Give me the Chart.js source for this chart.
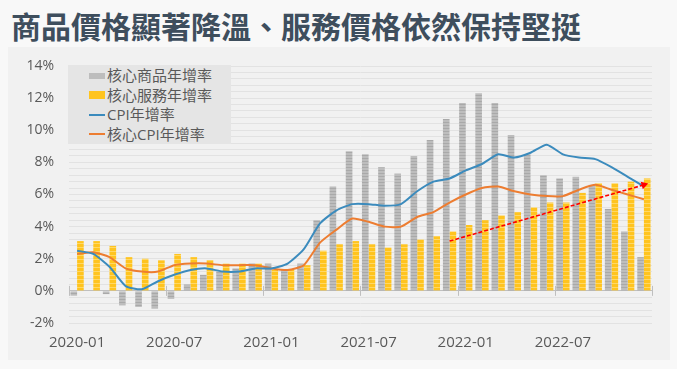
<!DOCTYPE html>
<html lang="zh-Hant">
<head>
<meta charset="utf-8">
<script src="https://cdn.jsdelivr.net/npm/chart.js@4"></script>
<style>
  html, body { margin: 0; padding: 0; background: #f8f8f8; }
  body { width: 677px; height: 369px; position: relative; overflow: hidden;
         font-family: 'Open Sans', 'Noto Sans CJK TC', sans-serif; }
  #panel { position: absolute; left: 8px; top: 47px; width: 662px; height: 313px; background: #f1f1f1; }
  h1 { position: absolute; left: 11px; top: 8px; margin: 0; line-height: 34px;
       font: bold 30px/34px 'Noto Sans CJK TC', sans-serif; color: #3e4e5d; white-space: nowrap; }
  #wrap { position: absolute; left: 0; top: 0; width: 677px; height: 369px; }
  #legend { position: absolute; left: 68px; top: 65px; width: 163px; height: 79px; background: #e5e5e5;
            color: #595959; font-size: 15px; }
  #legend .row { position: absolute; left: 21px; height: 20px; line-height: 20px; white-space: nowrap; }
  #legend .sw { display: inline-block; width: 16px; vertical-align: middle; margin-right: 2px; position: relative; top: -1px; }
  .sw.goods { height: 6px; background: #bdbdbd; }
  .sw.serv { height: 8px; background: #ffc41f; }
  .sw.cpi { height: 2px; background: #3b8bbd; }
  .sw.core { height: 2px; background: #ed7d31; }
</style>
</head>
<body>
<div id="panel"></div>
<h1>商品價格顯著降溫、服務價格依然保持堅挺</h1>
<div id="wrap"><canvas id="chart" width="677" height="369"></canvas></div>
<div id="legend">
  <div class="row" style="top:0px"><span class="sw goods"></span>核心商品年增率</div>
  <div class="row" style="top:19.5px"><span class="sw serv"></span>核心服務年增率</div>
  <div class="row" style="top:39px"><span class="sw cpi"></span>CPI年增率</div>
  <div class="row" style="top:58.5px"><span class="sw core"></span>核心CPI年增率</div>
</div>
<script>
// 月份（類別軸）
const months = [
  '2020-01','2020-02','2020-03','2020-04','2020-05','2020-06','2020-07','2020-08','2020-09','2020-10','2020-11','2020-12',
  '2021-01','2021-02','2021-03','2021-04','2021-05','2021-06','2021-07','2021-08','2021-09','2021-10','2021-11','2021-12',
  '2022-01','2022-02','2022-03','2022-04','2022-05','2022-06','2022-07','2022-08','2022-09','2022-10','2022-11','2022-12'
];

// 年增率 (%)
const coreGoods = [-0.3, 0.0, -0.2, -0.9, -1.0, -1.1, -0.5, 0.4, 1.0, 1.2, 1.4, 1.7,
                   1.7, 1.3, 1.7, 4.4, 6.5, 8.7, 8.5, 7.7, 7.3, 8.4, 9.4, 10.7,
                   11.7, 12.3, 11.7, 9.7, 8.5, 7.2, 7.0, 7.1, 6.6, 5.1, 3.7, 2.1];
const coreServices = [3.1, 3.1, 2.8, 2.1, 2.0, 1.9, 2.3, 2.1, 1.9, 1.7, 1.7, 1.7,
                      1.3, 1.3, 1.6, 2.5, 2.9, 3.1, 2.9, 2.7, 2.9, 3.2, 3.4, 3.7,
                      4.1, 4.4, 4.7, 4.9, 5.2, 5.5, 5.5, 6.1, 6.7, 6.7, 6.8, 7.0];
const cpi = [2.5, 2.3, 1.5, 0.3, 0.1, 0.6, 1.0, 1.3, 1.4, 1.2, 1.2, 1.4,
             1.4, 1.7, 2.6, 4.2, 5.0, 5.4, 5.4, 5.3, 5.4, 6.2, 6.8, 7.0,
             7.5, 7.9, 8.5, 8.3, 8.6, 9.1, 8.5, 8.3, 8.2, 7.7, 7.1, 6.5];
const coreCpi = [2.3, 2.4, 2.1, 1.4, 1.2, 1.2, 1.6, 1.7, 1.7, 1.6, 1.6, 1.6,
                 1.4, 1.3, 1.6, 3.0, 3.8, 4.5, 4.3, 4.0, 4.0, 4.6, 4.9, 5.5,
                 6.0, 6.4, 6.5, 6.2, 6.0, 5.9, 5.9, 6.3, 6.6, 6.3, 6.0, 5.7];

// 紅色虛線箭頭（服務價格趨勢）
const trendMonths = ['2021-12', '2022-12'];
const trendValues = [3.1, 6.6];

// y 軸範圍與格線間距
const yMin = -2, yMax = 14, yStep = 0.4;

// 長條的橫紋圖樣
function stripes(base, line, h) {
  const c = document.createElement('canvas');
  c.width = 1; c.height = h;
  const g = c.getContext('2d');
  g.fillStyle = base; g.fillRect(0, 0, 1, h);
  g.fillStyle = line; g.fillRect(0, h - 1, 1, 1);
  return g.createPattern(c, 'repeat');
}

// 在 0% 線上畫每半年一個的刻度
const zeroTicks = {
  id: 'zeroTicks',
  afterDatasetsDraw(chart) {
    const { ctx, scales: { x, y } } = chart;
    const y0 = y.getPixelForValue(0);
    const half = (x.getPixelForValue(1) - x.getPixelForValue(0)) / 2;
    ctx.save();
    ctx.strokeStyle = '#bfbfbf';
    ctx.lineWidth = 1;
    for (let i = 0; i <= months.length; i += 6) {
      const px = Math.round(x.getPixelForValue(i) - half) + 0.5;
      ctx.beginPath();
      ctx.moveTo(px, y0 - 5);
      ctx.lineTo(px, y0 + 5);
      ctx.stroke();
    }
    ctx.restore();
  }
};

const ctx = document.getElementById('chart').getContext('2d');
const tickFont = { family: "'Open Sans', 'Noto Sans CJK TC', sans-serif", size: 15 };

new Chart(ctx, {
  type: 'bar',
  data: {
    labels: months,
    datasets: [
      {
        type: 'line', label: 'trend', order: 0,
        data: trendMonths.map((m, i) => ({ x: m, y: trendValues[i] })),
        borderColor: '#ff0000', borderWidth: 1.6, borderDash: [4, 2],
        pointStyle: 'triangle', rotation: 74,
        pointRadius: [0, 4.5], backgroundColor: '#ff0000', pointBorderWidth: 0
      },
      {
        type: 'line', label: 'CPI年增率', order: 1, data: cpi,
        borderColor: '#3b8bbd', borderWidth: 2, pointRadius: 0, tension: 0.2
      },
      {
        type: 'line', label: '核心CPI年增率', order: 2, data: coreCpi,
        borderColor: '#ed7d31', borderWidth: 2, pointRadius: 0, tension: 0.2
      },
      {
        label: '核心商品年增率', order: 3, data: coreGoods,
        backgroundColor: stripes('#bdbdbd', '#a9a9a9', 3),
        categoryPercentage: 0.82, barPercentage: 1.0
      },
      {
        label: '核心服務年增率', order: 4, data: coreServices,
        backgroundColor: stripes('#ffc41f', '#ffd866', 4),
        categoryPercentage: 0.82, barPercentage: 1.0
      }
    ]
  },
  options: {
    responsive: false,
    animation: false,
    layout: { padding: { left: 0, right: 25, top: 66, bottom: 0 } },
    plugins: { legend: { display: false }, tooltip: { enabled: false } },
    scales: {
      x: {
        type: 'category',
        border: { display: false },
        grid: { display: false, drawTicks: false },
        ticks: {
          autoSkip: false, maxRotation: 0, padding: 11,
          color: '#595959', font: tickFont,
          callback: (v, i) => (i % 6 === 0 ? months[i] : '')
        },
        afterFit: (s) => { s.height = 46; }
      },
      y: {
        min: yMin, max: yMax,
        border: { display: false },
        grid: {
          drawTicks: false,
          color: (c) => (c.tick && Math.abs(c.tick.value) < 1e-6 ? '#bfbfbf' : '#e2e2e2')
        },
        ticks: {
          stepSize: yStep, maxTicksLimit: 100, autoSkip: false, padding: 15,
          color: '#595959', font: { family: tickFont.family, size: 14 },
          callback: (v) => {
            const r = Math.round(v);
            return Math.abs(v - r) < 1e-6 && r % 2 === 0 ? r + '%' : '';
          }
        },
        afterFit: (s) => { s.width = 69; }
      }
    }
  },
  plugins: [zeroTicks]
});
</script>
</body>
</html>
